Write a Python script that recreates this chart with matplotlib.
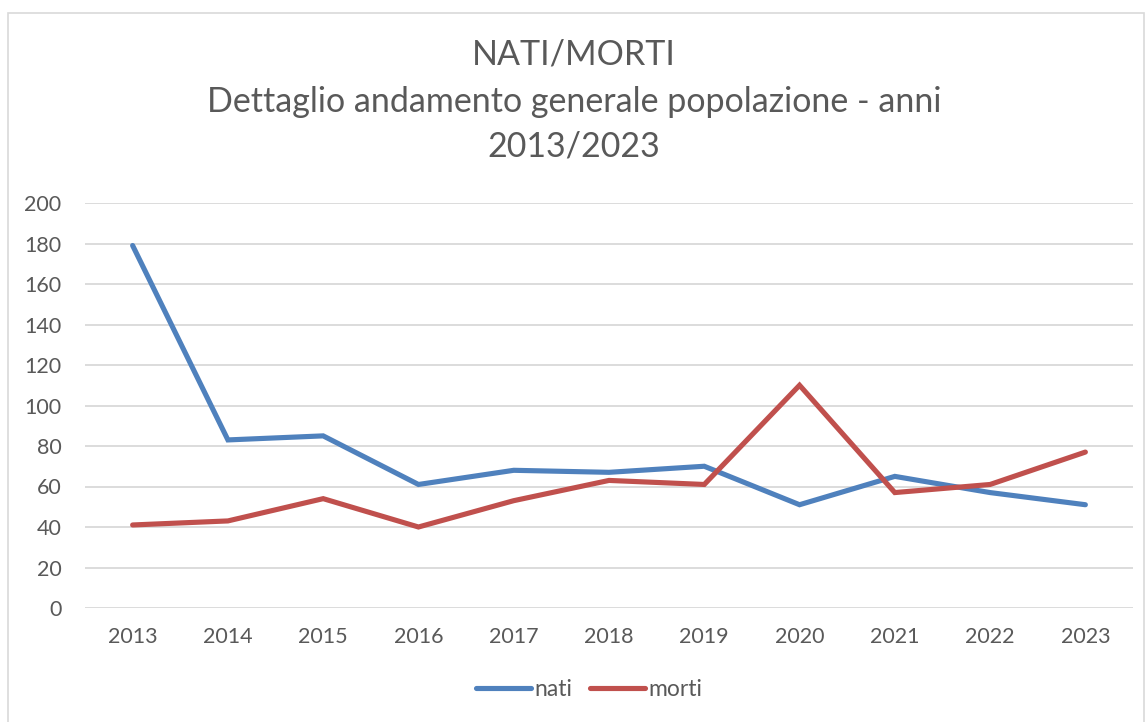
import numpy as np
import matplotlib.pyplot as plt
from matplotlib.patches import Rectangle

# dati
anni = ["2013", "2014", "2015", "2016", "2017", "2018", "2019", "2020", "2021", "2022", "2023"]
nati = [179, 83, 85, 61, 68, 67, 70, 51, 65, 57, 51]
morti = [41, 43, 54, 40, 53, 63, 61, 110, 57, 61, 77]
y_ticks = [0, 20, 40, 60, 80, 100, 120, 140, 160, 180, 200]

TEXT = "#595959"
GRID = "#d9d9d9"

plt.rcParams["font.family"] = ["Lato", "DejaVu Sans"]

fig = plt.figure(figsize=(11.48, 7.22), dpi=100)
ax = fig.add_axes([85 / 1148, 114 / 722, 1048 / 1148, 405 / 722])

# bordo del grafico
fig.patches.append(Rectangle((8 / 1148, -0.01), 1136 / 1148, 1 - 13 / 722 + 0.01,
                             transform=fig.transFigure, fill=False,
                             edgecolor=GRID, linewidth=1.2))

x = np.arange(len(anni))
ax.plot(x, nati, color="#4F81BD", linewidth=3.7, solid_capstyle="round",
        solid_joinstyle="miter", label="nati")
ax.plot(x, morti, color="#C0504D", linewidth=3.7, solid_capstyle="round",
        solid_joinstyle="miter", label="morti")

ax.set_xlim(-0.5, len(anni) - 0.5)
ax.set_ylim(0, 200)
ax.set_xticks(x)
ax.set_xticklabels(anni)
ax.set_yticks(y_ticks)
ax.yaxis.grid(True, color=GRID, linewidth=1.3)
ax.set_axisbelow(True)
for s in ax.spines.values():
    s.set_visible(False)
ax.tick_params(length=0, labelsize=15.5, labelcolor=TEXT)
ax.tick_params(axis="x", pad=14)
ax.tick_params(axis="y", pad=17)

titolo = ["NATI/MORTI", "Dettaglio andamento generale popolazione - anni", "2013/2023"]
for riga, ypix in zip(titolo, [55, 102, 147]):
    fig.text(0.5, 1 - ypix / 722, riga, ha="center", va="center", fontsize=24.5, color=TEXT)

leg = fig.legend(loc="center", bbox_to_anchor=(0.5 + 15 / 1148, 1 - 690 / 722), ncol=2, frameon=False,
                 fontsize=16.5, handlelength=2.4, handletextpad=0.15, columnspacing=0.8)
for t in leg.get_texts():
    t.set_color(TEXT)

fig.savefig("out.png", dpi=100)
